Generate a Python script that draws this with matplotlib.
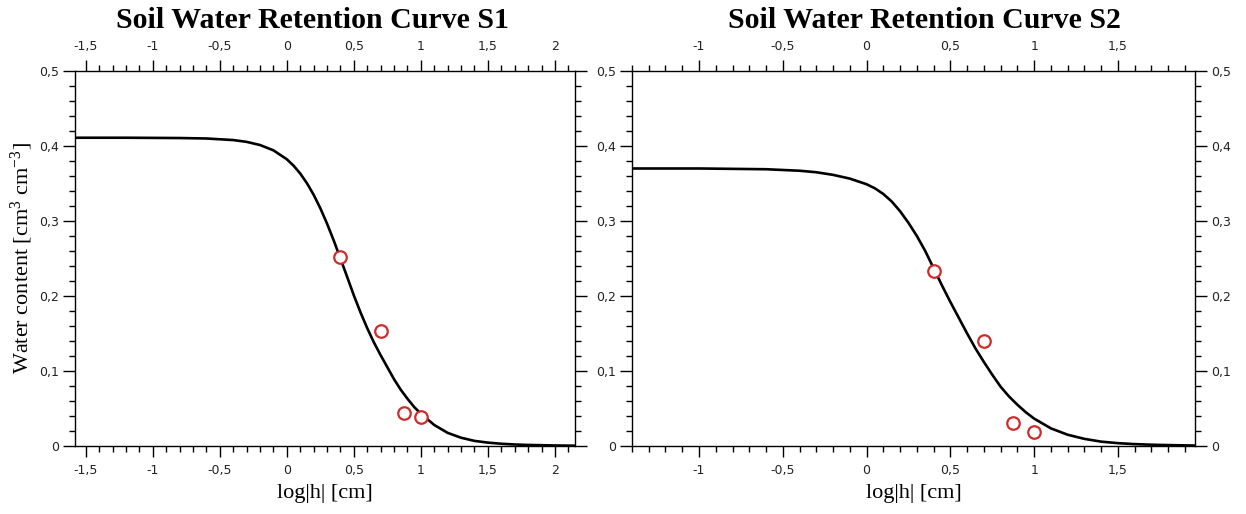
import matplotlib
matplotlib.use('Agg')
import matplotlib.pyplot as plt
from matplotlib.ticker import MultipleLocator, FuncFormatter

plt.rcParams['mathtext.fontset'] = 'custom'
plt.rcParams['mathtext.rm'] = 'Liberation Serif'
plt.rcParams['mathtext.it'] = 'Liberation Serif:italic'

# fitted curve S1 (log|h|, water content)
s1_logh = [-1.6, -1.2, -0.8, -0.6, -0.4, -0.3, -0.2, -0.1, 0.0, 0.05, 0.1, 0.15, 0.2,
           0.25, 0.3, 0.35, 0.4, 0.45, 0.5, 0.55, 0.6, 0.65, 0.7, 0.75, 0.8, 0.85,
           0.9, 0.95, 1.0, 1.1, 1.2, 1.3, 1.4, 1.5, 1.6, 1.7, 1.8, 2.0, 2.15]
s1_theta = [0.411, 0.411, 0.4106, 0.41, 0.4079, 0.4055, 0.4013, 0.3942, 0.3823, 0.3738,
            0.3633, 0.3504, 0.335, 0.317, 0.2965, 0.274, 0.25, 0.2255, 0.2008, 0.178,
            0.157, 0.138, 0.121, 0.105, 0.089, 0.075, 0.063, 0.052, 0.043, 0.028,
            0.0175, 0.011, 0.0068, 0.0045, 0.003, 0.002, 0.0014, 0.0007, 0.0004]

# measured points S1
s1_pts_x = [0.4, 0.7, 0.875, 1.0]
s1_pts_y = [0.252, 0.153, 0.044, 0.038]

# fitted curve S2
s2_logh = [-1.4, -1.0, -0.6, -0.4, -0.3, -0.2, -0.1, 0.0, 0.05, 0.1, 0.15, 0.2, 0.25,
           0.3, 0.35, 0.4, 0.45, 0.5, 0.55, 0.6, 0.65, 0.7, 0.75, 0.8, 0.85, 0.9,
           0.95, 1.0, 1.1, 1.2, 1.3, 1.4, 1.5, 1.6, 1.7, 1.8, 1.96]
s2_theta = [0.370, 0.370, 0.369, 0.367, 0.365, 0.3615, 0.3565, 0.349, 0.3435, 0.336,
            0.326, 0.313, 0.2975, 0.28, 0.26, 0.237, 0.214, 0.192, 0.171, 0.150,
            0.130, 0.112, 0.095, 0.079, 0.066, 0.055, 0.045, 0.0365, 0.0235, 0.015,
            0.0095, 0.0058, 0.0038, 0.0025, 0.0017, 0.0012, 0.0006]

s2_pts_x = [0.4, 0.7, 0.875, 1.0]
s2_pts_y = [0.233, 0.140, 0.031, 0.019]


def comma(v, pos):
    s = f"{v:.2f}".rstrip('0').rstrip('.')
    if s == '-0':
        s = '0'
    return s.replace('.', ',')


def style(ax, xlim):
    ax.set_xlim(*xlim)
    ax.set_ylim(0, 0.5)
    ax.xaxis.set_major_locator(MultipleLocator(0.5))
    ax.xaxis.set_minor_locator(MultipleLocator(0.1))
    ax.yaxis.set_major_locator(MultipleLocator(0.1))
    ax.yaxis.set_minor_locator(MultipleLocator(0.02))
    ax.xaxis.set_major_formatter(FuncFormatter(comma))
    ax.yaxis.set_major_formatter(FuncFormatter(comma))
    ax.tick_params(which='both', direction='out', top=True, right=True,
                   labeltop=True, labelright=True, labelsize=9,
                   labelcolor='#222222', width=1)
    ax.tick_params(axis='x', which='major', length=8, pad=5)
    ax.tick_params(axis='y', which='major', length=8.5, pad=3)
    ax.tick_params(which='minor', length=4.5)
    for sp in ax.spines.values():
        sp.set_linewidth(1)
    ax.set_xlabel('log|h| [cm]', family='Liberation Serif', fontsize=16, labelpad=5)


fig = plt.figure(figsize=(12.46, 5.14), dpi=100)
ax1 = fig.add_axes([0.0602, 0.1323, 0.4013, 0.7296])
ax2 = fig.add_axes([0.5072, 0.1323, 0.4519, 0.7296])

ax1.plot(s1_logh, s1_theta, color='black', lw=1.9, zorder=2)
ax1.plot(s1_pts_x, s1_pts_y, 'o', ms=9, mfc='white', mec='#d02a2a', mew=1.6, zorder=3)
style(ax1, (-1.58, 2.15))
ax1.tick_params(axis='y', labelright=False)
ax1.set_ylabel(r'Water content [cm$^{3}$ cm$^{-3}$]', family='Liberation Serif',
               fontsize=16, labelpad=3)
ax1.set_title('Soil Water Retention Curve S1', family='Liberation Serif',
              fontweight='bold', fontsize=21.5, x=0.474, y=1.0, pad=31)

ax2.plot(s2_logh, s2_theta, color='black', lw=1.9, zorder=2)
ax2.plot(s2_pts_x, s2_pts_y, 'o', ms=9, mfc='white', mec='#d02a2a', mew=1.6, zorder=3)
style(ax2, (-1.4, 1.96))
ax2.set_title('Soil Water Retention Curve S2', family='Liberation Serif',
              fontweight='bold', fontsize=21.5, x=0.52, y=1.0, pad=31)

fig.savefig('out.png', dpi=100)
